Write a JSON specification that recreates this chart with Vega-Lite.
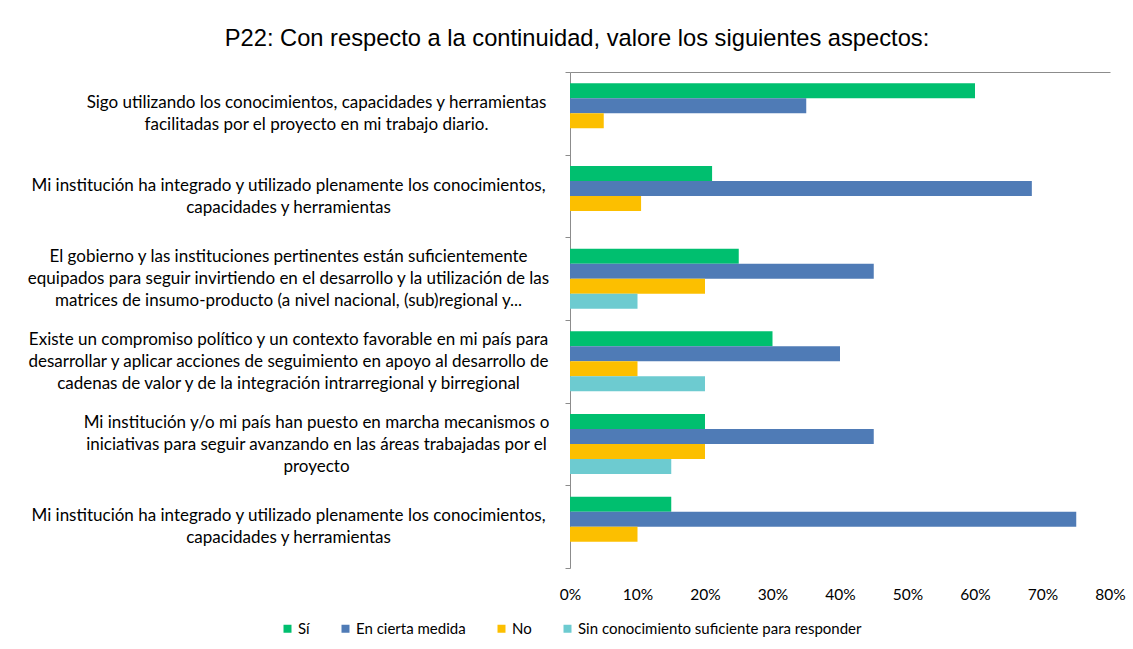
{
  "$schema": "https://vega.github.io/schema/vega-lite/v6.json",
  "autosize": "none",
  "width": 540,
  "height": 496,
  "padding": {"left": 570, "top": 72, "right": 23, "bottom": 81},
  "background": "white",
  "title": {
    "text": "P22: Con respecto a la continuidad, valore los siguientes aspectos:",
    "font": "Liberation Sans",
    "fontSize": 23.7,
    "fontWeight": "normal",
    "color": "#000000",
    "anchor": "middle",
    "frame": "group",
    "dx": -263,
    "offset": 12
  },
  "data": {
    "values": [
      {"q": "Q1", "serie": "Sí", "valor": 0.60},
      {"q": "Q1", "serie": "En cierta medida", "valor": 0.35},
      {"q": "Q1", "serie": "No", "valor": 0.05},
      {"q": "Q1", "serie": "Sin conocimiento suficiente para responder", "valor": 0},
      {"q": "Q2", "serie": "Sí", "valor": 0.2105},
      {"q": "Q2", "serie": "En cierta medida", "valor": 0.6842},
      {"q": "Q2", "serie": "No", "valor": 0.1053},
      {"q": "Q2", "serie": "Sin conocimiento suficiente para responder", "valor": 0},
      {"q": "Q3", "serie": "Sí", "valor": 0.25},
      {"q": "Q3", "serie": "En cierta medida", "valor": 0.45},
      {"q": "Q3", "serie": "No", "valor": 0.20},
      {"q": "Q3", "serie": "Sin conocimiento suficiente para responder", "valor": 0.10},
      {"q": "Q4", "serie": "Sí", "valor": 0.30},
      {"q": "Q4", "serie": "En cierta medida", "valor": 0.40},
      {"q": "Q4", "serie": "No", "valor": 0.10},
      {"q": "Q4", "serie": "Sin conocimiento suficiente para responder", "valor": 0.20},
      {"q": "Q5", "serie": "Sí", "valor": 0.20},
      {"q": "Q5", "serie": "En cierta medida", "valor": 0.45},
      {"q": "Q5", "serie": "No", "valor": 0.20},
      {"q": "Q5", "serie": "Sin conocimiento suficiente para responder", "valor": 0.15},
      {"q": "Q6", "serie": "Sí", "valor": 0.15},
      {"q": "Q6", "serie": "En cierta medida", "valor": 0.75},
      {"q": "Q6", "serie": "No", "valor": 0.10},
      {"q": "Q6", "serie": "Sin conocimiento suficiente para responder", "valor": 0}
    ]
  },
  "resolve": {"axis": {"x": "independent"}},
  "layer": [
    {
      "mark": {"type": "bar"},
      "encoding": {
        "x": {
          "field": "valor",
          "type": "quantitative",
          "scale": {"domain": [0, 0.8], "nice": false},
          "axis": {
            "orient": "bottom",
            "title": null,
            "values": [0, 0.1, 0.2, 0.3, 0.4, 0.5, 0.6, 0.7, 0.8],
            "format": ".0%",
            "domain": false,
            "ticks": false,
            "grid": false,
            "labelFlush": false,
            "labelFont": "Lato",
            "labelFontSize": 15.5,
            "labelColor": "#000000",
            "labelPadding": 19
          }
        },
        "y": {
          "field": "q",
          "type": "nominal",
          "sort": ["Q1", "Q2", "Q3", "Q4", "Q5", "Q6"],
          "scale": {"paddingInner": 0, "paddingOuter": 0},
          "axis": {
            "title": null,
            "grid": false,
            "domainColor": "#8c8c8c",
            "tickColor": "#8c8c8c",
            "tickSize": 5,
            "tickBand": "extent",
            "labelAlign": "center",
            "labelBaseline": "middle",
            "labelPadding": {"condition": {"test": "datum.value == 'Q1' || datum.value == 'Q5'", "value": 249}, "value": 277},
            "labelOffset": {"condition": {"test": "datum.value == 'Q3' || datum.value == 'Q4' || datum.value == 'Q5'", "value": -22}, "value": -11},
            "labelLimit": 0,
            "labelFont": "Lato",
            "labelFontSize": 17,
            "labelLineHeight": 22,
            "labelColor": "#000000",
            "labelExpr": "datum.value == 'Q1' ? ['Sigo utilizando los conocimientos, capacidades y herramientas', 'facilitadas por el proyecto en mi trabajo diario.'] : (datum.value == 'Q2' || datum.value == 'Q6') ? ['Mi institución ha integrado y utilizado plenamente los conocimientos,', 'capacidades y herramientas'] : datum.value == 'Q3' ? ['El gobierno y las instituciones pertinentes están suficientemente', 'equipados para seguir invirtiendo en el desarrollo y la utilización de las', 'matrices de insumo-producto (a nivel nacional, (sub)regional y...'] : datum.value == 'Q4' ? ['Existe un compromiso político y un contexto favorable en mi país para', 'desarrollar y aplicar acciones de seguimiento en apoyo al desarrollo de', 'cadenas de valor y de la integración intrarregional y birregional'] : datum.value == 'Q5' ? ['Mi institución y/o mi país han puesto en marcha mecanismos o', 'iniciativas para seguir avanzando en las áreas trabajadas por el', 'proyecto'] : ''"
          }
        },
        "yOffset": {
          "field": "serie",
          "type": "nominal",
          "sort": ["Sí", "En cierta medida", "No", "Sin conocimiento suficiente para responder"],
          "scale": {"paddingInner": 0, "paddingOuter": 0.756}
        },
        "color": {
          "field": "serie",
          "type": "nominal",
          "sort": ["Sí", "En cierta medida", "No", "Sin conocimiento suficiente para responder"],
          "scale": {
            "domain": ["Sí", "En cierta medida", "No", "Sin conocimiento suficiente para responder"],
            "range": ["#00bf6f", "#4f7bb6", "#fcbf00", "#6dcbd0"]
          },
          "legend": {
            "orient": "none",
            "legendX": -290,
            "legendY": 549,
            "direction": "horizontal",
            "title": null,
            "symbolType": "square",
            "symbolSize": 64,
            "symbolStrokeWidth": 0,
            "labelFont": "Lato",
            "labelFontSize": 15,
            "labelLimit": 0,
            "labelColor": "#000000",
            "labelOffset": 3,
            "columnPadding": 28
          }
        }
      }
    },
    {
      "mark": {"type": "point", "opacity": 0},
      "encoding": {
        "x": {
          "field": "valor",
          "type": "quantitative",
          "axis": {
            "orient": "top",
            "title": null,
            "labels": false,
            "ticks": false,
            "grid": false,
            "domain": true,
            "domainColor": "#8c8c8c"
          }
        }
      }
    }
  ],
  "config": {
    "view": {"stroke": null}
  }
}
